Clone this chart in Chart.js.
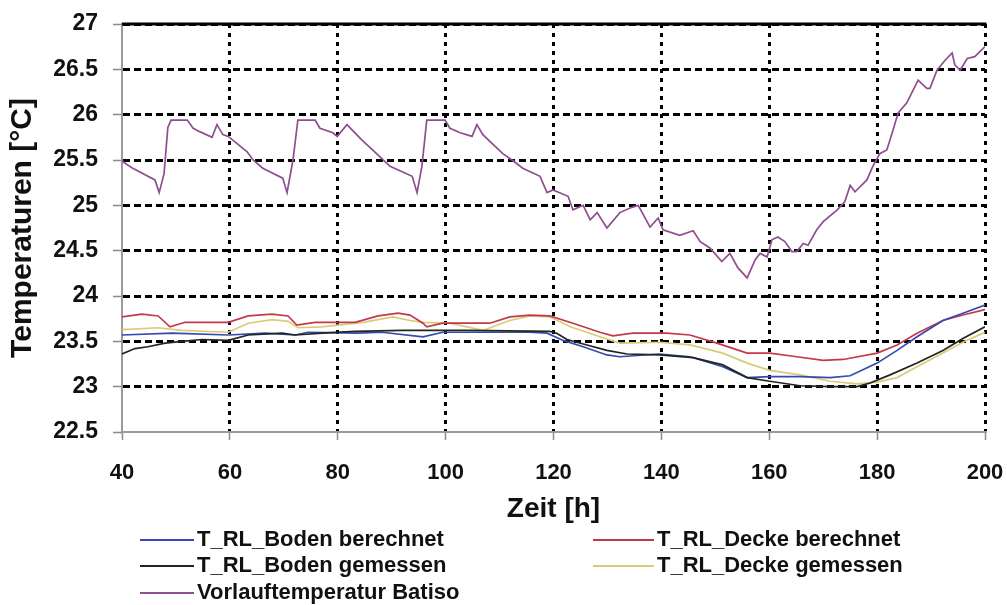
<!DOCTYPE html>
<html>
<head>
<meta charset="utf-8">
<script src="https://cdn.jsdelivr.net/npm/chart.js@4.4.1/dist/chart.umd.min.js"></script>
<style>
  html, body { margin: 0; padding: 0; background: #fff; }
  #wrap { position: relative; width: 1007px; height: 605px; }
  #c { position: absolute; left: 0; top: 0; }
  .leg { position: absolute; font-family: "Liberation Sans", Arial, sans-serif; font-weight: bold;
         font-size: 22px; color: #111; white-space: nowrap; line-height: 26px; }
</style>
</head>
<body>
<div id="wrap">
  <canvas id="c" width="1007" height="605"></canvas>
</div>
<script>
// ---- data ----
const seriesNames = [
  "T_RL_Boden berechnet",
  "T_RL_Decke berechnet",
  "T_RL_Boden gemessen",
  "T_RL_Decke gemessen",
  "Vorlauftemperatur Batiso"
];

const bodenBerHours = [40,49.3,59.7,66.5,72.1,74.5,83.6,88.2,95.8,99.5,106.9,115.6,118.8,121.8,125.5,129.9,132.3,139.7,145.3,151.4,155.9,160.1,165.7,171.3,175,180,183.7,187.4,192.2,195.9,200];
const bodenBerValues = [23.57,23.59,23.57,23.59,23.57,23.6,23.59,23.6,23.55,23.6,23.6,23.6,23.59,23.51,23.44,23.35,23.33,23.36,23.33,23.22,23.1,23.11,23.11,23.1,23.12,23.26,23.4,23.55,23.73,23.81,23.9];

const deckeBerHours = [40,43.7,46.7,48.9,51.7,59.7,63.4,67.8,70.8,72.4,75.8,83.2,87.5,91.2,93.4,95.8,96.5,99.5,108.2,111.9,115.6,119.3,123.6,128.6,131,134.7,141,145.3,150.3,155.9,160.1,165.1,170,173.7,180,183.7,187.4,192.2,195.9,200];
const deckeBerValues = [23.77,23.8,23.78,23.66,23.71,23.71,23.78,23.8,23.78,23.68,23.71,23.71,23.78,23.81,23.79,23.7,23.66,23.7,23.7,23.77,23.79,23.78,23.7,23.6,23.56,23.59,23.59,23.57,23.48,23.37,23.37,23.33,23.29,23.3,23.37,23.46,23.59,23.73,23.79,23.85];

const bodenGemHours = [40,42.4,44.8,48,51.1,54.8,59.7,63.4,69.7,72.1,77.1,83.2,91.9,104,119.3,120.6,122.5,126.2,129.9,133.6,139.7,145.9,151.4,155.9,160.1,165.7,171.3,176.3,178.7,182.4,187.4,192.2,195.9,200];
const bodenGemValues = [23.36,23.42,23.44,23.48,23.5,23.52,23.51,23.57,23.59,23.57,23.59,23.61,23.62,23.62,23.61,23.59,23.52,23.46,23.4,23.36,23.35,23.32,23.24,23.1,23.06,23.01,23.0,23.0,23.04,23.13,23.26,23.4,23.53,23.66];

const deckeGemHours = [40,46.7,51.1,59.7,63.4,67.8,70.8,72.6,77,84.7,90.2,93.4,95.8,100.8,106.9,111.9,115.6,119.3,123.1,128.6,132.3,139.7,145.3,151.4,155.9,160.1,165.7,171.3,176.3,180,183.7,187.4,192.2,195.9,200];
const deckeGemValues = [23.63,23.65,23.62,23.6,23.7,23.74,23.72,23.65,23.66,23.71,23.77,23.73,23.71,23.7,23.62,23.73,23.78,23.77,23.66,23.55,23.48,23.49,23.46,23.37,23.26,23.18,23.13,23.06,23.03,23.05,23.1,23.22,23.37,23.49,23.6];

const vorlaufHours = [40,40.9,42,46.1,46.9,47.8,48.5,49.1,52.1,53.2,54.5,56.7,57.6,58.7,59.7,63.2,64.3,66.1,69.8,70.6,71.7,72.6,75.8,76.7,79.1,79.9,81.7,84.5,86.5,89.7,93.8,94.7,95.6,96.5,99.9,100.8,102.7,104.9,105.8,106.9,110.6,112.3,114.3,117.5,118.8,119.9,122.7,123.6,125.5,126.8,128.1,129.9,132.3,134.2,135.7,137.9,139.4,140.3,143.4,145.9,147.2,149,151.2,152.7,154.2,155.9,157.4,158.3,159.6,160.5,161.6,162.9,164.2,165.1,166.3,167.2,168.8,170,172.6,174,175,175.9,178.1,179.2,180.5,181.8,182.8,183.9,185.5,187.6,189.2,189.8,191.1,192.6,193.9,194.4,195.4,196.7,198.1,200];
const vorlaufValues = [25.49,25.45,25.41,25.28,25.14,25.35,25.86,25.94,25.94,25.85,25.81,25.75,25.89,25.78,25.76,25.59,25.5,25.41,25.3,25.14,25.5,25.94,25.94,25.85,25.8,25.76,25.89,25.72,25.61,25.43,25.32,25.14,25.43,25.94,25.94,25.85,25.8,25.76,25.89,25.78,25.57,25.5,25.41,25.32,25.14,25.17,25.1,24.95,25.0,24.84,24.92,24.75,24.92,24.97,25.0,24.76,24.86,24.73,24.67,24.72,24.6,24.53,24.38,24.47,24.31,24.2,24.4,24.47,24.43,24.62,24.65,24.6,24.49,24.49,24.58,24.56,24.73,24.82,24.95,25.04,25.22,25.15,25.28,25.43,25.57,25.61,25.8,26.02,26.13,26.38,26.29,26.29,26.49,26.6,26.68,26.55,26.49,26.62,26.64,26.75];

const xTickStep = 20, xMin = 40, xMax = 200;
const yTickStep = 0.5, yMin = 22.5, yMax = 27;
const xTitle = "Zeit [h]";
const yTitle = "Temperaturen [°C]";

const colors = ["#3549b0", "#c23a48", "#1f261f", "#d8cc78", "#8e4f8e"];

function pts(h, v) { return h.map((x, i) => ({ x: x, y: v[i] })); }

const seriesData = [
  pts(bodenBerHours, bodenBerValues),
  pts(deckeBerHours, deckeBerValues),
  pts(bodenGemHours, bodenGemValues),
  pts(deckeGemHours, deckeGemValues),
  pts(vorlaufHours, vorlaufValues)
];

const FONT = "'Liberation Sans', Arial, sans-serif";

const datasets = seriesData.map((d, i) => ({
  label: seriesNames[i],
  data: d,
  borderColor: colors[i],
  backgroundColor: colors[i],
  borderWidth: 1.7,
  pointRadius: 0,
  tension: 0,
  fill: false
}));
datasets[3].order = 4; datasets[1].order = 3; datasets[0].order = 2; datasets[2].order = 1; datasets[4].order = 0;

const topBorder = {
  id: 'topBorder',
  afterDraw(chart) {
    const { ctx, chartArea } = chart;
    ctx.save();
    ctx.strokeStyle = '#000';
    ctx.lineWidth = 3;
    ctx.beginPath();
    ctx.moveTo(chartArea.left, chartArea.top);
    ctx.lineTo(chartArea.right + 1.5, chartArea.top);
    ctx.stroke();
    ctx.restore();
  }
};

new Chart(document.getElementById('c'), {
  type: 'line',
  data: { datasets },
  options: {
    responsive: false,
    devicePixelRatio: 1,
    animation: false,
    layout: { padding: { left: 5, top: 24, right: 22, bottom: 79 } },
    plugins: { legend: { display: false }, tooltip: { enabled: false } },
    scales: {
      x: {
        type: 'linear', min: xMin, max: xMax,
        afterFit(s) { s.height = 94; s.paddingLeft = 0; s.paddingRight = 0; },
        ticks: { stepSize: xTickStep, padding: 20, color: '#111',
                 font: { family: FONT, size: 22, weight: 'bold' } },
        grid: {
          color: c => (c.tick && c.tick.value === xMin) ? 'rgba(0,0,0,0)' : '#000',
          lineWidth: 3, tickLength: 8, tickColor: '#8a8a8a', tickWidth: 1.5
        },
        border: { color: '#9a9a9a', width: 2, dash: [4, 5] },
        title: { display: true, text: xTitle, color: '#111', padding: { top: 0, bottom: 0 },
                 font: { family: FONT, size: 28, weight: 'bold' } }
      },
      y: {
        type: 'linear', min: yMin, max: yMax,
        afterFit(s) { s.width = 117; s.paddingTop = 0; s.paddingBottom = 0; },
        ticks: { stepSize: yTickStep, padding: 15, color: '#111',
                 callback: v => String(v),
                 font: { family: FONT, size: 23, weight: 'bold' } },
        grid: {
          color: c => (c.tick && c.tick.value === yMin) ? 'rgba(0,0,0,0)' : '#000',
          lineWidth: 3, tickLength: 9, tickColor: '#8a8a8a', tickWidth: 1.5
        },
        border: { color: '#9a9a9a', width: 2, dash: [7, 4] },
        title: { display: true, text: yTitle, color: '#111', padding: { top: 0, bottom: 0 },
                 font: { family: FONT, size: 30, weight: 'bold' } }
      }
    }
  },
  plugins: [topBorder]
});

// HTML legend (two columns, row-major like the reference)
const legPos = [
  { lx: 140, tx: 197, y: 540 },
  { lx: 593, tx: 657, y: 540 },
  { lx: 140, tx: 197, y: 566 },
  { lx: 593, tx: 657, y: 566 },
  { lx: 140, tx: 197, y: 593 }
];
const wrap = document.getElementById('wrap');
seriesNames.forEach((name, i) => {
  const p = legPos[i];
  const ln = document.createElement('div');
  ln.style.cssText = `position:absolute;left:${p.lx}px;top:${p.y - 1}px;width:${p.tx - p.lx - 3}px;height:2px;background:${colors[i]};`;
  wrap.appendChild(ln);
  const t = document.createElement('div');
  t.className = 'leg';
  t.style.left = p.tx + 'px';
  t.style.top = (p.y - 14) + 'px';
  t.textContent = name;
  wrap.appendChild(t);
});
</script>
</body>
</html>
